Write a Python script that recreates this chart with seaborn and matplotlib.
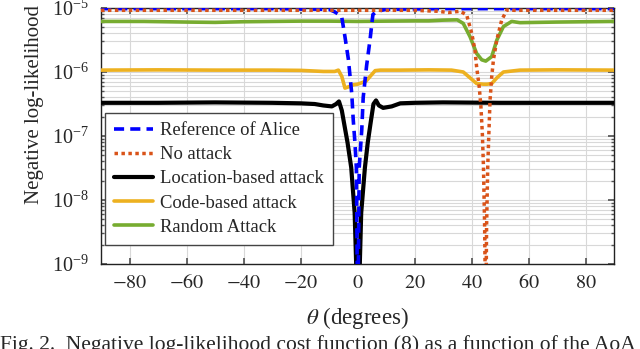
import numpy as np
import matplotlib
matplotlib.use("Agg")
import matplotlib.pyplot as plt
from matplotlib.ticker import LogLocator, NullFormatter, FixedLocator
import seaborn as sns

# =========================
# Data
# =========================

theta_alice = [-90, -30, -10, -8, -6.5, -5.5, -4.4, -3.2, -2.0, -1.5, -0.9, -0.4, 0.1,
               0.6, 1.5, 2.0, 3.2, 4.4, 5.4, 6.5, 8, 10, 30, 90]
nll_alice = [9.77e-6, 9.77e-6, 9.55e-6, 8.7e-6, 7.9e-6, 7.1e-6, 3.55e-6, 1.58e-6, 4.5e-7, 1.8e-7,
             7.9e-8, 3.2e-8, 1e-10, 3.2e-8, 1.26e-7, 4.0e-7, 1.26e-6, 3.2e-6, 7.9e-6, 8.7e-6,
             9.1e-6, 9.55e-6, 9.77e-6, 9.77e-6]

theta_none = [-90, -60, -30, 0, 20, 28, 32, 36, 38.3, 40.1, 41.2, 41.8, 42.7, 43.3, 43.8, 44.2,
              44.6, 45.0, 45.3, 45.7, 46.1, 46.5, 47.1, 47.7, 48.9, 50.6, 52.4, 55, 60, 90]
nll_none = [9.2e-6, 9.2e-6, 9.2e-6, 9.2e-6, 9.2e-6, 8.9e-6, 8.5e-6, 8.9e-6, 7.8e-6, 4.0e-6,
            2.2e-6, 1.2e-6, 5.9e-7, 2.9e-7, 1.1e-7, 3.3e-8, 4e-9, 1e-10, 4e-9, 3.3e-8,
            1.12e-7, 3.6e-7, 8.5e-7, 1.55e-6, 3.2e-6, 6.5e-6, 9.3e-6, 9.2e-6, 9.2e-6, 9.2e-6]

theta_loc = [-90, -70, -50, -30, -20, -15, -12, -9, -7.5, -6.5, -5.5, -4.5, -3.5, -2.2, -1.0,
             0.2, 1.3, 2.6, 3.6, 4.6, 5.6, 6.5, 7.5, 9, 12, 15, 20, 30, 50, 70, 90]
nll_loc = [3.3e-7, 3.3e-7, 3.35e-7, 3.3e-7, 3.24e-7, 3.16e-7, 3.0e-7, 2.9e-7, 3.16e-7, 3.47e-7,
           2.5e-7, 1.4e-7, 7.9e-8, 3.2e-8, 6.3e-9, 1e-10, 6.3e-9, 3.2e-8, 7.9e-8, 1.6e-7,
           3.16e-7, 3.6e-7, 3.0e-7, 2.75e-7, 2.9e-7, 3.24e-7, 3.3e-7, 3.35e-7, 3.3e-7, 3.3e-7,
           3.3e-7]

theta_code = [-90, -70, -50, -30, -20, -12, -8, -6.7, -5.5, -4.4, -3, -1.5, 0, 1.5, 3, 4.4,
              6.2, 8, 15, 25, 33, 37.1, 39.5, 41.8, 44.2, 45.5, 47.1, 48.9, 51.2, 57, 70, 90]
nll_code = [1.07e-6, 1.08e-6, 1.07e-6, 1.07e-6, 1.06e-6, 1.02e-6, 1.02e-6, 1.07e-6, 8.5e-7,
            5.6e-7, 5.9e-7, 6.3e-7, 6.45e-7, 6.8e-7, 7.2e-7, 8.5e-7, 1.05e-6, 1.07e-6,
            1.07e-6, 1.08e-6, 1.07e-6, 1.0e-6, 8.1e-7, 6.6e-7, 6.45e-7, 6.45e-7, 6.6e-7,
            8.1e-7, 1.0e-6, 1.07e-6, 1.08e-6, 1.07e-6]

theta_rand = [-90, -75, -60, -50, -40, -30, -20, -10, 0, 10, 20, 25, 30, 35, 37.1, 39.5, 41.8,
              43.6, 45, 47.1, 48.9, 51.2, 54.1, 57, 62.8, 70, 80, 90]
nll_rand = [6.17e-6, 6.17e-6, 6.03e-6, 5.96e-6, 6.1e-6, 6.17e-6, 6.24e-6, 6.24e-6, 6.17e-6,
            6.24e-6, 6.3e-6, 6.3e-6, 6.46e-6, 6.53e-6, 5.75e-6, 3.55e-6, 1.95e-6, 1.55e-6,
            1.48e-6, 1.74e-6, 3.16e-6, 5.13e-6, 6.17e-6, 5.9e-6, 5.96e-6, 6.03e-6, 6.1e-6,
            6.17e-6]

x_ticks = [-80, -60, -40, -20, 0, 20, 40, 60, 80]

caption = "Fig. 2.  Negative log-likelihood cost function (8) as a function of the AoA"

# =========================
# Style
# =========================

sns.set_theme(style="ticks")
plt.rcParams["font.family"] = ["Liberation Serif", "DejaVu Serif"]
plt.rcParams["mathtext.fontset"] = "stix"

fig = plt.figure(figsize=(6.4, 3.49), dpi=100)
ax = fig.add_axes([101 / 640, 1 - 264 / 349, 513 / 640, 256 / 349])

# =========================
# Plot
# =========================

sns.lineplot(x=theta_loc, y=nll_loc, ax=ax, color="black", lw=3.0,
             label="Location-based attack", zorder=3, sort=False)
sns.lineplot(x=theta_code, y=nll_code, ax=ax, color="#EDB120", lw=2.6,
             label="Code-based attack", zorder=3, sort=False)
sns.lineplot(x=theta_rand, y=nll_rand, ax=ax, color="#77AC30", lw=2.6,
             label="Random Attack", zorder=3, sort=False)
l1 = sns.lineplot(x=theta_alice, y=nll_alice, ax=ax, color="#0000FF", lw=2.6,
                  label="Reference of Alice", zorder=4, sort=False).lines[-1]
l1.set_dashes((2.8, 1.7))
l2 = sns.lineplot(x=theta_none, y=nll_none, ax=ax, color="#D95319", lw=2.5,
                  label="No attack", zorder=5, sort=False).lines[-1]
l2.set_dashes((1, 1))

ax.set_yscale("log")
ax.set_xlim(-90, 90)
ax.set_ylim(1e-9, 1e-5)
ax.xaxis.set_major_locator(FixedLocator(x_ticks))
ax.set_xticklabels([f"${t}$" if t >= 0 else f"$-{abs(t)}$" for t in x_ticks])
ax.yaxis.set_major_locator(LogLocator(base=10, numticks=10))
ax.yaxis.set_minor_locator(LogLocator(base=10, subs=np.arange(2, 10), numticks=20))
ax.yaxis.set_minor_formatter(NullFormatter())

ax.grid(True, which="major", color="#d8d8d8", lw=0.8)
ax.grid(True, which="minor", axis="y", color="#d8d8d8", lw=0.8)
ax.set_axisbelow(True)

ax.tick_params(which="both", direction="in", top=True, right=True, color="#555555")
ax.tick_params(which="major", length=4, labelsize=14.5)
ax.tick_params(axis="x", which="major", pad=7)
ax.tick_params(axis="y", which="major", pad=9)
ax.tick_params(which="minor", length=2.5)
for s in ax.spines.values():
    s.set_color("#222222")
    s.set_linewidth(1.0)

ax.set_xlabel(r"$\theta$ (degrees)", fontsize=16.5, labelpad=9)
ax.set_ylabel("Negative log-likelihood", fontsize=15)
ax.yaxis.set_label_coords(-0.112, 0.625)

# =========================
# Legend
# =========================

handles, labels = ax.get_legend_handles_labels()
order = [3, 4, 0, 1, 2]
leg = ax.legend([handles[i] for i in order], [labels[i] for i in order],
                loc="upper left", bbox_to_anchor=(0.008, 0.59), borderaxespad=0,
                fontsize=13.4, handlelength=2.1, handletextpad=0.35,
                labelspacing=0.38, borderpad=0.5, fancybox=False, framealpha=1)
leg.get_frame().set_edgecolor("#444444")
leg.get_frame().set_linewidth(1.0)

fig.text(0.0, 1 - 335 / 349, caption, fontsize=15.5, va="top", ha="left")

fig.savefig("out.png", dpi=100)
